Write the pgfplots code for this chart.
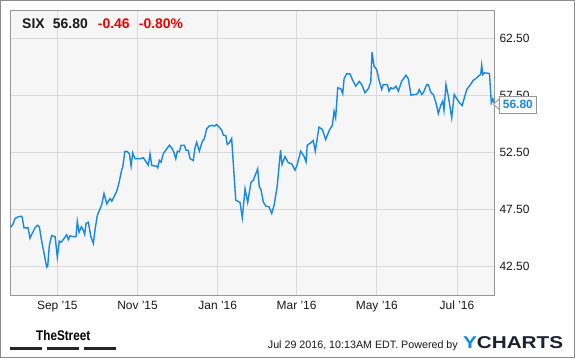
\documentclass[border=0pt]{standalone}
\usepackage{graphicx}
\usepackage{pgfplots}
\pgfplotsset{compat=1.18}
\usepackage{fontspec}
\setmainfont{Liberation Sans}
\definecolor{lineblue}{RGB}{24,136,229}
\definecolor{gridgray}{RGB}{218,218,218}
\definecolor{framegray}{RGB}{150,150,150}
\definecolor{plotbg}{RGB}{246,246,246}
\definecolor{ychblue}{RGB}{21,136,226}
\definecolor{ychdark}{RGB}{28,32,48}
\definecolor{negred}{RGB}{240,0,0}
\pgfplotstableread{
day price
-35.6 45.92
-33.5 46.27
-32.2 46.71
-29.7 46.86
-27.6 46.91
-26.8 46.82
-25.3 45.89
-22.3 45.89
-20.8 44.98
-19.5 45.31
-17.0 45.89
-15.2 46.12
-13.7 45.98
-11.9 44.72
-9.9 43.55
-8.1 42.44
-7.3 42.53
-6.1 44.34
-4.3 45.22
-1.7 45.11
0.0 43.32
1.5 44.72
2.8 44.63
4.6 44.87
7.1 45.28
8.4 44.87
9.7 45.19
12.2 45.11
14.2 45.11
15.2 46.47
16.5 45.51
18.3 45.98
19.8 45.66
20.8 45.31
21.8 46.27
23.6 46.39
25.4 45.16
27.4 44.52
28.7 45.75
30.4 46.97
32.5 47.56
33.8 47.94
35.5 48.90
37.6 48.00
40.1 48.46
41.4 48.23
43.1 48.61
45.2 49.11
47.2 49.98
49.0 51.01
49.7 51.16
51.3 52.56
52.8 52.61
54.8 52.39
56.1 51.30
57.3 52.47
59.1 51.95
62.9 51.95
65.4 52.04
68.0 51.60
69.2 51.39
70.5 52.39
71.8 51.36
75.6 51.30
76.4 51.16
77.6 51.82
78.9 51.65
80.6 52.39
83.2 52.82
85.2 53.14
87.0 52.91
88.8 52.47
90.1 51.95
91.3 52.61
92.8 52.56
94.1 53.14
96.6 53.14
97.9 52.70
99.6 52.68
100.9 51.97
103.4 51.80
104.7 52.91
106.0 53.40
108.0 52.61
110.3 53.49
111.8 53.70
113.6 54.58
115.4 54.81
117.9 54.89
119.4 54.81
121.2 54.96
123.0 54.75
125.0 54.46
126.3 54.02
128.1 53.99
129.3 53.20
130.8 53.35
132.6 53.73
135.7 48.32
139.0 48.11
140.7 46.77
142.8 49.32
144.8 48.11
147.3 49.89
149.1 50.07
152.4 51.07
153.6 49.49
154.9 49.25
156.7 48.14
158.7 47.79
161.0 47.74
163.1 47.15
165.0 47.94
167.3 49.61
169.8 52.70
170.9 51.45
173.2 52.15
175.7 51.60
178.3 51.51
180.8 50.95
182.5 51.45
185.1 52.61
187.6 52.18
189.2 51.68
190.1 53.14
192.7 53.35
194.7 53.55
196.2 52.61
199.0 54.72
201.6 54.52
204.1 53.64
206.9 54.46
209.2 54.89
210.5 56.12
211.7 55.54
213.3 58.18
215.6 58.09
217.1 57.65
218.1 58.96
220.1 59.40
222.6 59.40
224.7 58.82
227.0 58.32
229.7 58.73
231.5 58.46
234.0 57.74
236.5 58.09
238.4 58.67
239.4 61.30
240.9 60.07
242.9 59.78
244.9 58.75
246.7 58.03
247.9 58.46
251.0 58.46
252.3 57.88
253.6 58.18
255.6 58.09
257.6 58.32
259.4 57.88
261.9 58.75
265.2 59.28
267.0 58.96
269.0 57.53
272.1 57.59
274.1 57.65
275.3 58.03
277.2 57.59
278.4 57.74
281.0 58.46
282.2 58.46
284.0 57.79
286.0 57.59
288.0 56.86
289.8 55.92
291.6 56.62
293.1 57.00
294.1 56.21
295.6 58.46
297.4 57.44
300.0 55.54
301.9 57.59
304.2 57.15
306.3 56.80
308.0 56.62
309.6 57.30
311.4 58.03
313.4 58.32
315.2 58.61
316.4 58.84
318.2 58.96
320.2 59.19
322.0 59.34
322.8 60.16
323.6 59.34
324.8 59.49
328.7 59.43
330.1 56.86
331.2 57.21
332.5 56.80
}\pricedata
\begin{document}
\begin{tikzpicture}[x=1bp,y=1bp]
\useasboundingbox (0,0) rectangle (575,358);
\fill[white] (0,0) rectangle (575,358);
\draw[black!45, line width=1.2bp] (0.6,0.6) rectangle (574.4,357.4);
\begin{axis}[
  at={(10bp,63bp)}, anchor=south west,
  scale only axis, width=484.7bp, height=285bp,
  xmin=-36, xmax=332.7, ymin=40, ymax=65,
  axis background/.style={fill=plotbg},
  axis line style={framegray, line width=0.9bp},
  xtick={0,61,122,182,243,304},
  xticklabels={Sep '15, Nov '15, Jan '16, Mar '16, May '16, Jul '16},
  ytick={42.5,47.5,52.5,57.5,62.5},
  yticklabels={42.50,47.50,52.50,57.50,62.50},
  yticklabel pos=right,
  tick style={draw=none},
  grid=major, grid style={gridgray, line width=0.9bp},
  ticklabel style={font=\fontsize{12}{14}\selectfont, text=black!90},
  yticklabel style={anchor=west, inner sep=0pt, xshift=4.6bp},
  xticklabel style={anchor=base, inner sep=0pt, yshift=-14.3bp},
  clip=true,
]
\addplot[lineblue, line width=1.4bp, mark=none] table[x=day, y=price] {\pricedata};
\end{axis}
% title
\begin{scope}[font=\bfseries\fontsize{14}{16}\selectfont]
\node[anchor=base west, inner sep=0pt, text=black!90] at (22,330) {SIX};
\node[anchor=base west, inner sep=0pt, text=black!90] at (52.7,330) {56.80};
\node[anchor=base west, inner sep=0pt, text=negred] at (97.7,330) {-0.46};
\node[anchor=base west, inner sep=0pt, text=negred] at (138.7,330) {-0.80\%};
\end{scope}
% last value callout
\filldraw[fill=white, draw=framegray, line width=0.8bp] (499.3,248.5) -- (493.5,253.8) -- (499.3,259.0) -- cycle;
\node[draw=framegray, fill=white, line width=0.8bp, text=lineblue, anchor=west,
  font=\bfseries\fontsize{12}{14}\selectfont, inner xsep=3.2bp, inner ysep=0pt,
  minimum height=17.3bp] at (499.3,253.3) {56.80};
\fill[white] (499.8,249.0) rectangle (501,258.5);
% footer
\node[anchor=base west, inner sep=0pt] at (36,17.3) {\scalebox{0.84}[1]{\bfseries\fontsize{14}{16}\selectfont TheStreet}};
\fill[black!85] (9.9,7.7) rectangle (42.2,10.7);
\fill[black!85] (46.9,7.7) rectangle (78.8,10.7);
\fill[black!85] (83.6,7.7) rectangle (115.9,10.7);
\node[anchor=base west, inner sep=0pt, text=black!90] at (267.7,9.7) {\fontsize{10.75}{12}\selectfont Jul 29 2016, 10:13AM EDT. Powered by};
\node[anchor=base west, inner sep=0pt] at (462.8,9.7) {\scalebox{1.21}[1]{\bfseries\fontsize{17.2}{19}\selectfont\textcolor{ychblue}{Y}\textcolor{ychdark}{CHARTS}}};
\end{tikzpicture}
\end{document}
